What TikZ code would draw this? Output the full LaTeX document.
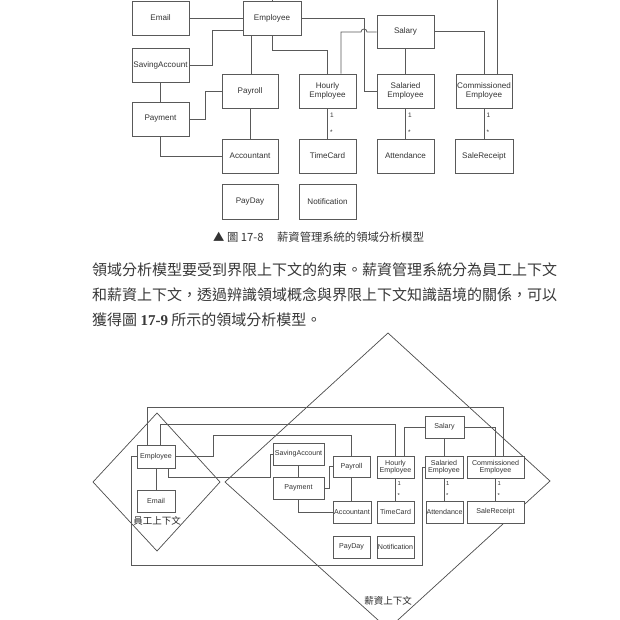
\documentclass[tikz,border=0pt]{standalone}
\usepackage{fontspec}
\newfontfamily\arialf{Liberation Sans}
\newfontfamily\timesf{Liberation Serif}
\newfontfamily\cjk{Noto Sans CJK TC}
\newcommand\umlbox[7][]{%
  \pgfmathsetmacro\bxw{#5-#3}\pgfmathsetmacro\bxh{#6-#4}%
  \pgfmathsetmacro\bxx{(#3+#5)/2}\pgfmathsetmacro\bxy{(#4+#6)/2}%
  \node[#1, minimum width=\bxw pt, minimum height=\bxh pt] (#2) at (\bxx,\bxy) {#7};}
\tikzset{
  boxa/.style={draw=black!65, fill=white, line width=0.8pt, inner sep=0pt, align=center,
    font=\arialf\fontsize{8.1}{9.2}\selectfont, text=black!80},
  boxb/.style={draw=black!65, fill=white, line width=0.7pt, inner sep=0pt, align=center,
    font=\arialf\fontsize{7.1}{7.5}\selectfont, text=black!80},
  conn/.style={draw=black!65, line width=0.8pt},
  connb/.style={draw=black!65, line width=0.7pt},
  mult/.style={font=\arialf\fontsize{6.5}{6.5}\selectfont, text=black!80, inner sep=0pt},
  multb/.style={font=\arialf\fontsize{5.8}{5.8}\selectfont, text=black!80, inner sep=0pt},
  ctx/.style={draw=black!70, line width=0.7pt},
  ctxlabel/.style={font=\cjk\fontsize{9.5}{10}\selectfont, text=black!85, inner sep=0pt},
  para/.style={font=\cjk\fontsize{15}{16}\selectfont, text=black!78, inner sep=0pt, anchor=west},
}
\begin{document}
\begin{tikzpicture}[x=1pt,y=-1pt]
\fill[white] (0,0) rectangle (620,620);
\useasboundingbox (0,0) rectangle (620,620);

% ---------------- Figure 17-8 ----------------
\umlbox[boxa]{Email}{132}{1}{189}{35}{Email}
\umlbox[boxa]{Employee}{243}{1}{301}{35}{Employee}
\umlbox[boxa]{SavingAccount}{132}{48}{189}{82}{SavingAccount}
\umlbox[boxa]{Payment}{132}{102}{189}{136}{Payment}
\umlbox[boxa]{Payroll}{222}{74}{278}{108}{Payroll}
\umlbox[boxa]{Hourly}{299}{74}{356}{108}{Hourly\\Employee}
\umlbox[boxa]{Salary}{377}{15}{434}{48}{Salary}
\umlbox[boxa]{Salaried}{377}{74}{434}{108}{Salaried\\Employee}
\umlbox[boxa]{Commissioned}{456}{74}{512}{108}{Commissioned\\Employee}
\umlbox[boxa]{Accountant}{222}{139}{278}{173}{Accountant}
\umlbox[boxa]{TimeCard}{299}{139}{356}{173}{TimeCard}
\umlbox[boxa]{Attendance}{377}{139}{434}{173}{Attendance}
\umlbox[boxa]{SaleReceipt}{455}{139}{513}{173}{SaleReceipt}
\umlbox[boxa]{PayDay}{222}{184}{278}{219}{PayDay}
\umlbox[boxa]{Notification}{299}{184}{356}{219}{Notification}

\coordinate (topA) at (272,-4);
\coordinate (topB) at (497,-4);
\draw[conn] (Email.east) -- (Employee.west);
\draw[conn] (SavingAccount.east) -- (212,65) -- (212,30) -- (Employee.west |- 0,30);
\draw[conn] (Employee.south -| 251,0) -- (Payroll.north -| 251,0);
\draw[conn] (Employee.south -| 272,0) -- (272,50) -| (Hourly.north);
\draw[conn] (Employee.north -| 272,0) -- (topA);
\draw[conn] (Commissioned.north -| 497,0) -- (topB);
\draw[conn] (Employee.east) -- (364,18) |- (Salaried.west);
\draw[conn] (Hourly.north -| 341,0) -- (341,32) -- (361,32) arc[start angle=180,end angle=0,radius=3pt] -- (Salary.west |- 0,32);
\draw[conn] (Salary.south) -- (Salaried.north);
\draw[conn] (Salary.east) -| (Commissioned.north);
\draw[conn] (Payroll.south) -- (Accountant.north);
\draw[conn] (Payment.east) -- (205,119) |- (Payroll.west);
\draw[conn] (SavingAccount.south) -- (Payment.north);
\draw[conn] (Payment.south) |- (Accountant.west);
\draw[conn] (Hourly.south) -- (TimeCard.north);
\draw[conn] (Salaried.south) -- (Attendance.north);
\draw[conn] (Commissioned.south) -- (SaleReceipt.north);
\foreach \a/\b in {Hourly/TimeCard,Salaried/Attendance,Commissioned/SaleReceipt}{
  \node[mult, anchor=west] (m1\a) at ([xshift=2.5pt,yshift=-7pt]\a.south) {1};
  \node[mult, anchor=west] (m2\a) at ([xshift=2.5pt,yshift=6pt]\b.north) {*};
}

\node[font=\cjk\fontsize{11.3}{12}\selectfont, text=black!80, inner sep=0pt, anchor=west] (cap) at (213,237)
  {▲ 圖 17-8\hspace{1.2em}薪資管理系統的領域分析模型};

% ---------------- paragraph ----------------
\node[para] (p1) at (92,270) {領域分析模型要受到界限上下文的約束。薪資管理系統分為員工上下文};
\node[para] (p2) at (92,295) {和薪資上下文，透過辨識領域概念與界限上下文知識語境的關係，可以};
\node[para] (p3) at (92,320) {獲得圖 {\timesf\bfseries 17-9} 所示的領域分析模型。};

% ---------------- Figure 17-9 ----------------
\draw[ctx] (388,333) -- (550,481) -- (388,629) -- (225,482) -- cycle;
\draw[ctx] (157,413) -- (220,482) -- (157,551) -- (93,482) -- cycle;

\umlbox[boxb]{E2}{137}{445}{175}{468}{Employee}
\umlbox[boxb]{Email2}{137}{490}{175}{512}{Email}
\umlbox[boxb]{SavingAccount2}{273}{443}{324}{465}{SavingAccount}
\umlbox[boxb]{Payment2}{273}{477}{324}{499}{Payment}
\umlbox[boxb]{Payroll2}{333}{456}{370}{477}{Payroll}
\umlbox[boxb]{Hourly2}{377}{456}{414}{478}{Hourly\\Employee}
\umlbox[boxb]{Salaried2}{425}{456}{463}{478}{Salaried\\Employee}
\umlbox[boxb]{Commissioned2}{467}{456}{524}{478}{Commissioned\\Employee}
\umlbox[boxb]{Salary2}{425}{416}{464}{438}{Salary}
\umlbox[boxb]{Accountant2}{333}{501}{371}{523}{Accountant}
\umlbox[boxb]{TimeCard2}{377}{501}{414}{523}{TimeCard}
\umlbox[boxb]{Attendance2}{426}{501}{463}{523}{Attendance}
\umlbox[boxb]{SaleReceipt2}{467}{501}{524}{523}{SaleReceipt}
\umlbox[boxb]{PayDay2}{333}{536}{370}{558}{PayDay}
\umlbox[boxb]{Notification2}{377}{536}{414}{558}{Notification}

\draw[connb] (E2.north -| 147,0) -- (147,407) -- (503,407) -- (Commissioned2.north -| 503,0);
\draw[connb] (E2.north -| 160,0) -- (160,424) -| (Hourly2.north);
\draw[connb] (E2.east) -- (213,456.5) |- (351.5,435) -- (Payroll2.north);
\draw[connb] (E2.south -| 168,0) -- (168,477) -- (270,477) |- (SavingAccount2.west);
\draw[connb] (E2.west) -- (131,456.5) -- (131,565) -- (422,565) |- (Salaried2.west);
\draw[connb] (E2.south) -- (Email2.north);
\draw[connb] (SavingAccount2.south) -- (Payment2.north);
\draw[connb] (Payment2.east) -- (329,488) |- (Payroll2.west);
\draw[connb] (Payment2.south) |- (Accountant2.west);
\draw[connb] (Payroll2.south) -- (Accountant2.north -| Payroll2.south);
\draw[connb] (Salary2.west) -- (404,427) -- (Hourly2.north -| 404,0);
\draw[connb] (Salary2.south) -- (Salaried2.north -| Salary2.south);
\draw[connb] (Salary2.east) -| (Commissioned2.north);
\draw[connb] (Hourly2.south) -- (TimeCard2.north);
\draw[connb] (Salaried2.south) -- (Attendance2.north -| Salaried2.south);
\draw[connb] (Commissioned2.south) -- (SaleReceipt2.north);
\foreach \a/\b in {Hourly2/TimeCard2,Salaried2/Attendance2,Commissioned2/SaleReceipt2}{
  \node[multb, anchor=west] (n1\a) at ([xshift=2pt,yshift=-5.5pt]\a.south) {1};
  \node[multb, anchor=west] (n2\a) at ([xshift=2pt,yshift=5pt]\a.south |- \b.north) {*};
}

\node[ctxlabel] (lab1) at (157,521) {員工上下文};
\node[ctxlabel] (lab2) at (388,601) {薪資上下文};
\end{tikzpicture}
\end{document}
